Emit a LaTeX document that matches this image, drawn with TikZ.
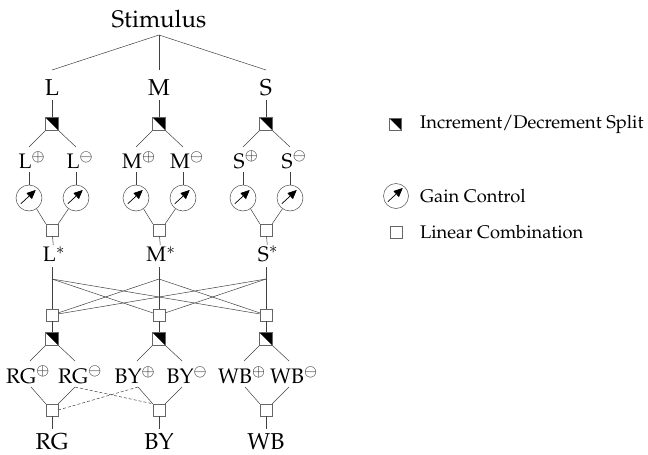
\documentclass[tikz,border=0pt]{standalone}
\usepackage[T1]{fontenc}
\usepackage{mathpazo}
\usetikzlibrary{arrows.meta,calc}
\begin{document}
\begin{tikzpicture}[x=1pt,y=-1pt,
  ln/.style={draw=black!75, line width=0.5pt},
  dln/.style={ln, dash pattern=on 3pt off 2pt},
  splitbox/.style={draw=black!60, line width=0.5pt, minimum size=13pt, inner sep=0pt,
    path picture={\fill[black] (path picture bounding box.north west) -- (path picture bounding box.north east) -- (path picture bounding box.south east) -- cycle;}},
  sqbox/.style={draw=black!60, line width=0.5pt, minimum size=12pt, inner sep=0pt},
  gainc/.style={circle, draw=black!70, line width=0.5pt, minimum size=26pt, inner sep=0pt,
    path picture={\draw[black, line width=0.7pt, -{Triangle[length=9pt,width=8pt]}]
      ($(path picture bounding box.center)+(215:10pt)$) -- ($(path picture bounding box.center)+(50:10.5pt)$);}},
  huge/.style={inner sep=0pt, font=\fontsize{24}{28}\selectfont},
  outl/.style={inner sep=0pt, font=\fontsize{23}{27}\selectfont},
  big/.style={inner sep=1pt, font=\fontsize{23}{27}\selectfont},
  mid/.style={inner sep=1pt, font=\fontsize{21}{25}\selectfont},
  leg/.style={inner sep=1pt, font=\fontsize{18.3}{22}\selectfont}]
\useasboundingbox (0,0) rectangle (648,455);
\node[huge] (stim) at (159,19) {Stimulus};
\coordinate (stimb) at (159,35);
% first stage
\foreach \c/\n in {52/L,159/M,266/S} {
  \node[big] (\n) at (\c,88) {\n};
  \coordinate (\n top) at (\c,70);
  \draw[ln] (stimb) -- (\n top);
  \coordinate (\n lt) at (\c,100);
  \node[splitbox] (\n sp) at (\c,124) {};
  \draw[ln] (\n lt) -- (\n sp);
  \coordinate (\n pa) at (\c-23,147);
  \coordinate (\n ma) at (\c+24,147);
  \draw[ln] (\n sp.south west) -- (\n pa);
  \draw[ln] (\n sp.south east) -- (\n ma);
  \node[mid] (\n p) at (\c-20,160) {\n$^{\oplus}$};
  \node[mid] (\n m) at (\c+28,160) {\n$^{\ominus}$};
  \node[gainc] (\n gp) at (\c-23,198) {};
  \node[gainc] (\n gm) at (\c+24,198) {};
  \coordinate (\n pb) at (\c-23,172);
  \coordinate (\n mb) at (\c+24,172);
  \draw[ln] (\n pb) -- (\n gp);
  \draw[ln] (\n mb) -- (\n gm);
  \node[sqbox] (\n q) at (\c,230) {};
  \draw[ln] (\n gp.-55) -- (\n q.north west);
  \draw[ln] (\n gm.-125) -- (\n q.north east);
  \node[mid] (\n s) at (\c+2,254) {\n$^{*}$};
  \coordinate (\n sb) at (\c,267);
  \draw[ln] (\n q) -- (\n s);
  \coordinate (\n x) at (\c,279);
  \node[sqbox] (\n q2) at (\c,315) {};
  \draw[ln] (\n sb) -- (\n q2);
}
% cross connections
\foreach \a/\b in {L/M,L/S,M/L,M/S,S/L,S/M} {
  \draw[ln] (\a x) -- (\b q2);
}
% second stage
\foreach \c/\n/\o in {52/RG/L,159/BY/M,266/WB/S} {
  \node[splitbox] (\n sp) at (\c,339) {};
  \draw[ln] (\o q2) -- (\n sp);
  \coordinate (\n pa) at (\c-22,361);
  \coordinate (\n ma) at (\c+23,361);
  \draw[ln] (\n sp.south west) -- (\n pa);
  \draw[ln] (\n sp.south east) -- (\n ma);
  \node[mid] (\n p) at (\c-24,375) {\n$^{\oplus}$};
  \node[mid] (\n m) at (\c+28,375) {\n$^{\ominus}$};
  \coordinate (\n pb) at (\c-21,387);
  \coordinate (\n mb) at (\c+23,387);
  \node[sqbox] (\n q) at (\c,410) {};
  \draw[ln] (\n pb) -- (\n q.north west);
  \draw[ln] (\n mb) -- (\n q.north east);
  \node[outl] (\n out) at (\c,442) {\n};
  \coordinate (\n ot) at (\c,429);
  \draw[ln] (\n q) -- (\n ot);
}
\draw[dln] (RGmb) -- (BYq.north west);
\draw[dln] (RGq.east) -- (BYpb);
% legend
\node[splitbox, minimum size=12pt] (lsp) at (395,124) {};
\node[leg, anchor=west] (lspt) at (419,124) {Increment/Decrement Split};
\node[gainc, minimum size=25pt] (lg) at (396,196) {};
\node[leg, anchor=west] (lgt) at (419,196) {Gain Control};
\node[sqbox] (lsq) at (396,232) {};
\node[leg, anchor=west] (lsqt) at (419,232) {Linear Combination};
\end{tikzpicture}
\end{document}
